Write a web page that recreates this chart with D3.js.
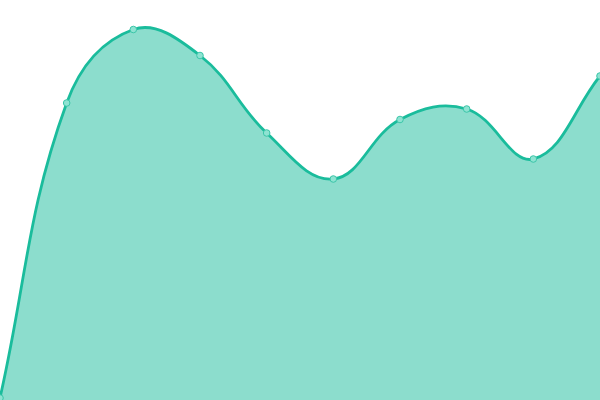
<!DOCTYPE html>
<html>
<head>
<meta charset="utf-8">
<script src="https://d3js.org/d3.v7.min.js"></script>
<style>
  body { margin: 0; background: #fff; }
  svg { display: block; }
</style>
</head>
<body>
<svg id="chart"></svg>
<script>
// categories along x and the series values
var labels = ['1','2','3','4','5','6','7','8','9','10'];
var values = [2, 297, 370.5, 344.5, 267, 221, 280.5, 291, 241, 324];
var minY = 0, maxY = 400;
var tension = 0.4;

var svgWidth = 600, svgHeight = 400;

var svg = d3.select('#chart')
            .attr("width", svgWidth)
            .attr("height", svgHeight);

var xScale = d3.scalePoint().domain(labels).range([0, svgWidth]),
    yScale = d3.scaleLinear().domain([minY, maxY]).range([svgHeight, 0]);

//screen positions of the points
var pts = values.map(function(d, i) {
    return { x: xScale(labels[i]), y: yScale(d) };
});

//distance weighted spline control points, clamped to the plot area
function clampX(v) { return Math.max(0, Math.min(svgWidth, v)); }
function clampY(v) { return Math.max(0, Math.min(svgHeight, v)); }
pts.forEach(function(p, i) {
    var prev = pts[i - 1] || p, next = pts[i + 1] || p;
    var d01 = Math.hypot(p.x - prev.x, p.y - prev.y),
        d12 = Math.hypot(next.x - p.x, next.y - p.y);
    var s01 = d01 / (d01 + d12) || 0, s12 = d12 / (d01 + d12) || 0;
    var fa = tension * s01, fb = tension * s12;
    p.cpPrev = { x: clampX(p.x - fa * (next.x - prev.x)), y: clampY(p.y - fa * (next.y - prev.y)) };
    p.cpNext = { x: clampX(p.x + fb * (next.x - prev.x)), y: clampY(p.y + fb * (next.y - prev.y)) };
});

function splinePath(ctx) {
    ctx.moveTo(pts[0].x, pts[0].y);
    for (var i = 1; i < pts.length; i++) {
        var a = pts[i - 1], b = pts[i];
        ctx.bezierCurveTo(a.cpNext.x, a.cpNext.y, b.cpPrev.x, b.cpPrev.y, b.x, b.y);
    }
    return ctx;
}

var linePath = splinePath(d3.path()).toString();
var areaCtx = splinePath(d3.path());
areaCtx.lineTo(pts[pts.length - 1].x, yScale(minY));
areaCtx.lineTo(pts[0].x, yScale(minY));
areaCtx.closePath();

//filled area
svg.append("path")
    .attr("d", areaCtx.toString())
    .attr("fill", "rgba(26,188,156,0.5)");

//outline
svg.append("path")
    .attr("d", linePath)
    .attr("fill", "none")
    .attr("stroke", "#1abc9c")
    .attr("stroke-width", 2.8);

//points
svg.selectAll("circle")
    .data(values)
    .enter().append("circle")
    .attr("cx", function(d, i) { return xScale(labels[i]); })
    .attr("cy", function(d) { return yScale(d); })
    .attr("r", 3.3)
    .attr("fill", "#8ee3d2")
    .attr("stroke", "#3cc6a9")
    .attr("stroke-width", 1);
</script>
</body>
</html>
